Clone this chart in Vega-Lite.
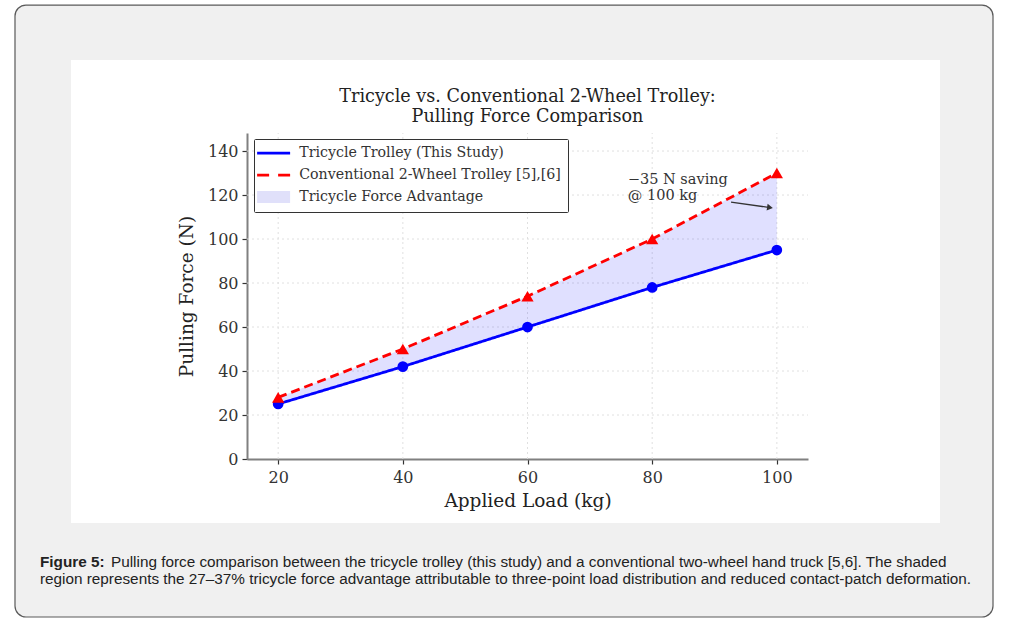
{
  "$schema": "https://vega.github.io/schema/vega-lite/v6.json",
  "width": 561,
  "height": 326,
  "autosize": {"type": "none"},
  "padding": {"left": 247, "top": 133, "right": 206, "bottom": 168},
  "background": "#ffffff",
  "config": {
    "view": {"stroke": null},
    "font": "DejaVu Serif",
    "axis": {
      "labelFont": "DejaVu Serif",
      "titleFont": "DejaVu Serif",
      "labelFontSize": 16,
      "titleFontSize": 18.5,
      "titleFontWeight": "normal",
      "labelColor": "#333333",
      "titleColor": "#222222",
      "domainColor": "#808080",
      "domainWidth": 2,
      "tickColor": "#333333",
      "tickWidth": 1.2,
      "tickSize": 5,
      "grid": false
    }
  },
  "datasets": {
    "force": [
      {"load": 20, "series": "tri", "force": 25},
      {"load": 40, "series": "tri", "force": 42},
      {"load": 60, "series": "tri", "force": 60},
      {"load": 80, "series": "tri", "force": 78},
      {"load": 100, "series": "tri", "force": 95},
      {"load": 20, "series": "conv", "force": 28},
      {"load": 40, "series": "conv", "force": 50},
      {"load": 60, "series": "conv", "force": 74},
      {"load": 80, "series": "conv", "force": 100},
      {"load": 100, "series": "conv", "force": 130}
    ],
    "one": [{"k": 1}],
    "xgrid": [{"v": 20}, {"v": 40}, {"v": 60}, {"v": 80}, {"v": 100}],
    "ygrid": [{"v": 20}, {"v": 40}, {"v": 60}, {"v": 80}, {"v": 100}, {"v": 120}, {"v": 140}]
  },
  "data": {"name": "force"},
  "layer": [
    {
      "data": {"name": "one"},
      "mark": {"type": "rect", "fill": "#f0f0f0", "cornerRadiusTopLeft": 11, "cornerRadiusTopRight": 11},
      "encoding": {
        "x": {"datum": -22.22, "type": "quantitative",
          "scale": {"domain": [15, 105], "nice": false, "zero": false},
          "axis": {"values": [20, 40, 60, 80, 100], "title": "Applied Load (kg)", "labelPadding": 5, "titlePadding": 6}},
        "x2": {"datum": 134.68},
        "y": {"datum": 206.36, "type": "quantitative",
          "scale": {"domain": [0, 148.2], "nice": false, "zero": false},
          "axis": {"values": [0, 20, 40, 60, 80, 100, 120, 140], "title": "Pulling Force (N)", "labelPadding": 4, "titlePadding": 11}},
        "y2": {"datum": 181.36}
      }
    },
    {
      "data": {"name": "one"},
      "mark": {"type": "rect", "fill": "#f0f0f0", "cornerRadiusBottomLeft": 11, "cornerRadiusBottomRight": 11},
      "encoding": {
        "x": {"datum": -22.22, "type": "quantitative"},
        "x2": {"datum": 134.68},
        "y": {"datum": -29.09, "type": "quantitative"},
        "y2": {"datum": -71.82}
      }
    },
    {
      "data": {"name": "one"},
      "mark": {"type": "rect", "fill": "#f0f0f0"},
      "encoding": {
        "x": {"datum": -22.22, "type": "quantitative"},
        "x2": {"datum": -13.24},
        "y": {"datum": 182.0, "type": "quantitative"},
        "y2": {"datum": -29.8}
      }
    },
    {
      "data": {"name": "one"},
      "mark": {"type": "rect", "fill": "#f0f0f0"},
      "encoding": {
        "x": {"datum": 126.18, "type": "quantitative"},
        "x2": {"datum": 134.68},
        "y": {"datum": 182.0, "type": "quantitative"},
        "y2": {"datum": -29.8}
      }
    },
    {
      "data": {"name": "one"},
      "mark": {"type": "rect", "fill": null, "fillOpacity": 0, "stroke": "#5a5a5a", "strokeWidth": 1.2, "cornerRadius": 11},
      "encoding": {
        "x": {"datum": -22.22, "type": "quantitative"},
        "x2": {"datum": 134.68},
        "y": {"datum": 206.36, "type": "quantitative"},
        "y2": {"datum": -71.82}
      }
    },
    {
      "data": {"name": "xgrid"},
      "mark": {"type": "rule", "stroke": "#dddddd", "strokeWidth": 0.9, "strokeDash": [2, 3]},
      "encoding": {
        "x": {"field": "v", "type": "quantitative"},
        "y": {"datum": 0, "type": "quantitative"},
        "y2": {"datum": 148.2}
      }
    },
    {
      "data": {"name": "ygrid"},
      "mark": {"type": "rule", "stroke": "#dddddd", "strokeWidth": 0.9, "strokeDash": [2, 3]},
      "encoding": {
        "y": {"field": "v", "type": "quantitative"},
        "x": {"datum": 15, "type": "quantitative"},
        "x2": {"datum": 105}
      }
    },
    {
      "transform": [{"pivot": "series", "value": "force", "groupby": ["load"]}],
      "mark": {"type": "area", "fill": "#0000ff", "fillOpacity": 0.12},
      "encoding": {
        "x": {"field": "load", "type": "quantitative"},
        "y": {"field": "conv", "type": "quantitative"},
        "y2": {"field": "tri"}
      }
    },
    {
      "mark": {"type": "line", "strokeWidth": 2.8},
      "encoding": {
        "x": {"field": "load", "type": "quantitative"},
        "y": {"field": "force", "type": "quantitative"},
        "color": {
          "field": "series", "type": "nominal",
          "scale": {"domain": ["tri", "conv", "adv"], "range": ["#0000ff", "#ff0000", "#e0e0fa"]},
          "legend": {
            "title": null,
            "orient": "none",
            "legendX": 7,
            "legendY": 6,
            "padding": 7,
            "strokeColor": "#333333",
            "fillColor": "#ffffff",
            "cornerRadius": 1,
            "symbolSize": 144,
            "symbolStrokeWidth": 2.8,
            "labelFont": "DejaVu Serif",
            "labelFontSize": 14.2,
            "labelColor": "#333333",
            "labelOffset": 24,
            "labelLimit": 400,
            "rowPadding": 7,
            "labelExpr": "datum.value == 'tri' ? 'Tricycle Trolley (This Study)' : datum.value == 'conv' ? 'Conventional 2-Wheel Trolley [5],[6]' : 'Tricycle Force Advantage'",
            "encode": {
              "symbols": {
                "update": {
                  "shape": {"signal": "datum.value == 'adv' ? 'M-1.83,-1L3.67,-1L3.67,1L-1.83,1Z' : 'M-1.83,0L3.67,0'"},
                  "fill": {"signal": "datum.value == 'adv' ? '#e0e0fa' : 'transparent'"},
                  "stroke": {"signal": "datum.value == 'tri' ? '#0000ff' : datum.value == 'conv' ? '#ff0000' : 'transparent'"},
                  "strokeDash": {"signal": "datum.value == 'conv' ? [12, 9] : [1, 0]"},
                  "strokeWidth": {"signal": "datum.value == 'adv' ? 0 : 2.8"},
                  "opacity": {"value": 1}
                }
              }
            }
          }
        },
        "strokeDash": {
          "field": "series", "type": "nominal",
          "scale": {"domain": ["tri", "conv"], "range": [[1, 0], [9, 5]]},
          "legend": null
        }
      }
    },
    {
      "mark": {"type": "point", "filled": true, "opacity": 1},
      "encoding": {
        "x": {"field": "load", "type": "quantitative"},
        "y": {"field": "force", "type": "quantitative"},
        "color": {"field": "series", "type": "nominal"},
        "shape": {
          "field": "series", "type": "nominal",
          "scale": {"domain": ["tri", "conv"], "range": ["circle", "triangle-up"]},
          "legend": null
        },
        "size": {
          "field": "series", "type": "nominal",
          "scale": {"domain": ["tri", "conv"], "range": [115, 150]},
          "legend": null
        }
      }
    },
    {
      "data": {"name": "one"},
      "mark": {"type": "text", "text": "Tricycle vs. Conventional 2-Wheel Trolley:", "font": "DejaVu Serif", "fontSize": 17.6, "fill": "#222222", "align": "center", "baseline": "middle"},
      "encoding": {
        "x": {"datum": 60.0, "type": "quantitative"},
        "y": {"datum": 164.55, "type": "quantitative"}
      }
    },
    {
      "data": {"name": "one"},
      "mark": {"type": "text", "text": "Pulling Force Comparison", "font": "DejaVu Serif", "fontSize": 17.6, "fill": "#222222", "align": "center", "baseline": "middle"},
      "encoding": {
        "x": {"datum": 60.0, "type": "quantitative"},
        "y": {"datum": 155.45, "type": "quantitative"}
      }
    },
    {
      "data": {"name": "one"},
      "mark": {"type": "text", "text": ["−35 N saving", "@ 100 kg"], "font": "DejaVu Serif", "fontSize": 14.5, "fill": "#333333", "align": "left", "baseline": "top", "lineHeight": 16},
      "encoding": {
        "x": {"datum": 76.1, "type": "quantitative"},
        "y": {"datum": 130.0, "type": "quantitative"}
      }
    },
    {
      "data": {"name": "one"},
      "mark": {"type": "rule", "stroke": "#333333", "strokeWidth": 1.3},
      "encoding": {
        "x": {"datum": 92.65, "type": "quantitative"},
        "y": {"datum": 116.82, "type": "quantitative"},
        "x2": {"datum": 98.9},
        "y2": {"datum": 114.3}
      }
    },
    {
      "data": {"name": "one"},
      "mark": {"type": "point", "shape": "triangle-right", "filled": true, "fill": "#333333", "size": 45, "angle": 9, "opacity": 1},
      "encoding": {
        "x": {"datum": 98.9, "type": "quantitative"},
        "y": {"datum": 114.3, "type": "quantitative"}
      }
    },
    {
      "data": {"name": "one"},
      "mark": {"type": "text", "text": "Figure 5:", "font": "Liberation Sans", "fontSize": 15.3, "fontWeight": "bold", "fill": "#222222", "align": "left", "baseline": "middle"},
      "encoding": {
        "x": {"datum": -18.21, "type": "quantitative"},
        "y": {"datum": -46.82, "type": "quantitative"}
      }
    },
    {
      "data": {"name": "one"},
      "mark": {"type": "text", "text": "Pulling force comparison between the tricycle trolley (this study) and a conventional two-wheel hand truck [5,6]. The shaded", "font": "Liberation Sans", "fontSize": 15.3, "fill": "#222222", "align": "left", "baseline": "middle"},
      "encoding": {
        "x": {"datum": -6.82, "type": "quantitative"},
        "y": {"datum": -46.82, "type": "quantitative"}
      }
    },
    {
      "data": {"name": "one"},
      "mark": {"type": "text", "text": "region represents the 27–37% tricycle force advantage attributable to three-point load distribution and reduced contact-patch deformation.", "font": "Liberation Sans", "fontSize": 15.3, "fill": "#222222", "align": "left", "baseline": "middle"},
      "encoding": {
        "x": {"datum": -18.21, "type": "quantitative"},
        "y": {"datum": -54.55, "type": "quantitative"}
      }
    }
  ]
}
